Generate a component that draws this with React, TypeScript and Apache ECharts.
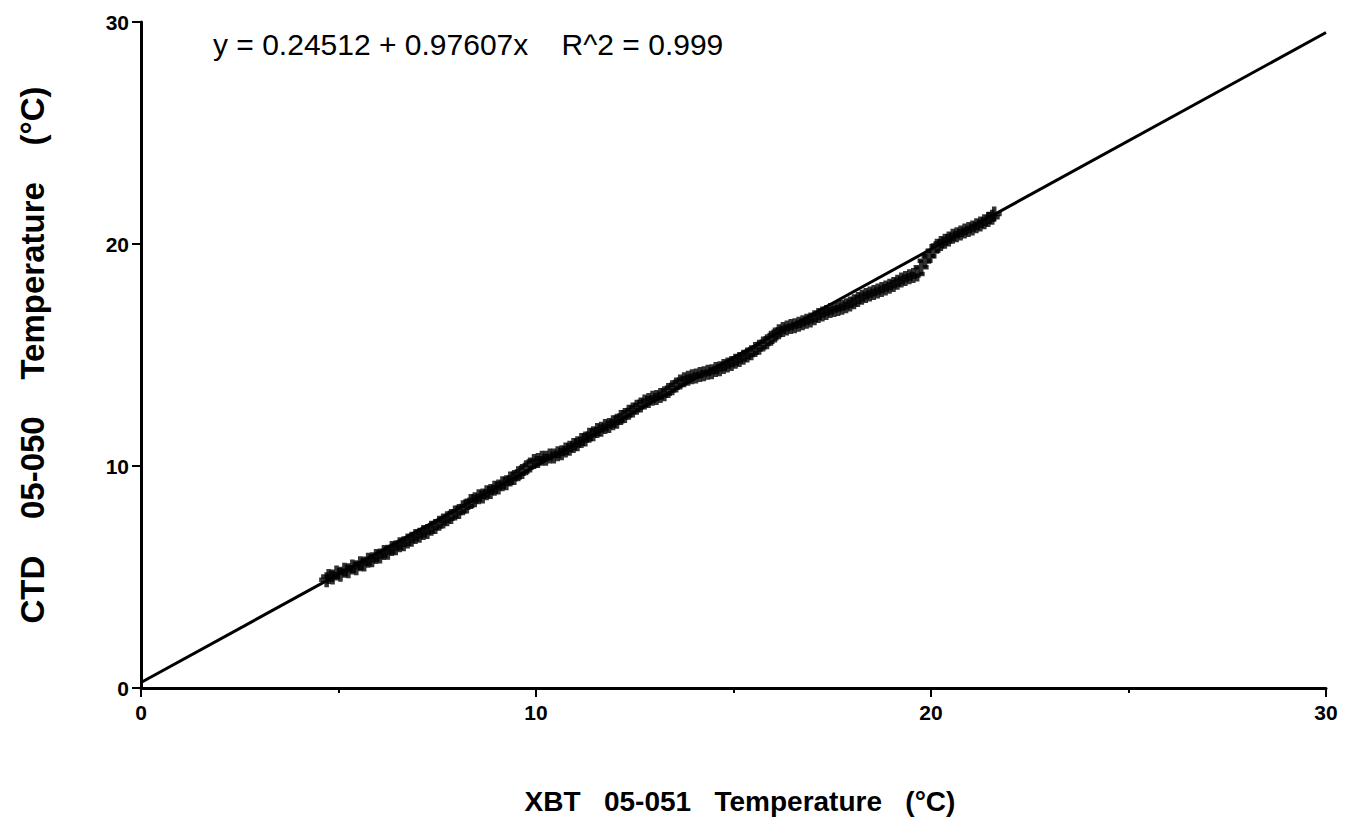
import React, { useEffect, useRef } from "react";
import * as echarts from "echarts";

const xTicks = [0, 10, 20, 30];
const yTicks = [0, 10, 20, 30];
const FIT_INTERCEPT = 0.24512;
const FIT_SLOPE = 0.97607;
const fitRange = [0, 30];
const equationText = "y = 0.24512 + 0.97607x    R^2 = 0.999";
const xTitle = "XBT   05-051   Temperature   (°C)";
const yTitle = "CTD    05-050    Temperature    (°C)";

const xbt = [
  4.7, 4.75, 4.85, 4.95, 5.05, 5.15, 5.25, 5.35, 5.45, 5.55, 5.65, 5.75, 5.85, 5.95, 6.05, 6.15, 6.25, 6.35, 6.45, 6.55,
  6.65, 6.75, 6.85, 6.95, 7.05, 7.15, 7.25, 7.35, 7.45, 7.55, 7.65, 7.75, 7.85, 7.95, 8.05, 8.15, 8.25, 8.35, 8.45, 8.55,
  8.65, 8.75, 8.85, 8.95, 9.05, 9.15, 9.25, 9.35, 9.45, 9.55, 9.65, 9.75, 9.85, 9.95, 10.05, 10.15, 10.25, 10.35, 10.45, 10.55,
  10.65, 10.75, 10.85, 10.95, 11.05, 11.15, 11.25, 11.35, 11.45, 11.55, 11.65, 11.75, 11.85, 11.95, 12.05, 12.15, 12.25, 12.35, 12.45, 12.55,
  12.65, 12.75, 12.85, 12.95, 13.05, 13.15, 13.25, 13.35, 13.45, 13.55, 13.65, 13.75, 13.85, 13.95, 14.05, 14.15, 14.25, 14.35, 14.45, 14.55,
  14.65, 14.75, 14.85, 14.95, 15.05, 15.15, 15.25, 15.35, 15.45, 15.55, 15.65, 15.75, 15.85, 15.95, 16.05, 16.15, 16.25, 16.35, 16.45, 16.55,
  16.65, 16.75, 16.85, 16.95, 17.05, 17.15, 17.25, 17.35, 17.45, 17.55, 17.65, 17.75, 17.85, 17.95, 18.05, 18.15, 18.25, 18.35, 18.45, 18.55,
  18.65, 18.75, 18.85, 18.95, 19.05, 19.15, 19.25, 19.35, 19.45, 19.55, 19.65, 19.75, 19.85, 19.95, 20.05, 20.15, 20.25, 20.35, 20.45, 20.55,
  20.65, 20.75, 20.85, 20.95, 21.05, 21.15, 21.25, 21.35, 21.45, 21.55, 21.6
];
const ctd = [
  4.88, 5.02, 5.0, 5.18, 5.12, 5.3, 5.28, 5.45, 5.42, 5.6, 5.58, 5.75, 5.78, 5.92, 5.95, 6.1, 6.12, 6.28, 6.32, 6.45,
  6.5, 6.62, 6.7, 6.82, 6.88, 7.0, 7.05, 7.2, 7.28, 7.42, 7.52, 7.62, 7.72, 7.88, 7.95, 8.12, 8.2, 8.4, 8.48, 8.62,
  8.65, 8.8, 8.85, 9.0, 9.05, 9.2, 9.25, 9.42, 9.48, 9.65, 9.75, 9.92, 10.05, 10.2, 10.25, 10.35, 10.35, 10.45, 10.45, 10.55,
  10.6, 10.72, 10.8, 10.92, 11.0, 11.15, 11.22, 11.38, 11.45, 11.6, 11.65, 11.78, 11.82, 11.95, 12.02, 12.18, 12.28, 12.42, 12.52, 12.65,
  12.75, 12.88, 12.95, 13.05, 13.08, 13.18, 13.25, 13.4, 13.52, 13.65, 13.78, 13.88, 13.95, 14.02, 14.05, 14.12, 14.15, 14.22, 14.25, 14.35,
  14.38, 14.48, 14.55, 14.62, 14.72, 14.8, 14.9, 15.0, 15.1, 15.25, 15.35, 15.5, 15.6, 15.75, 15.9, 16.05, 16.15, 16.22, 16.28, 16.32,
  16.38, 16.45, 16.52, 16.58, 16.68, 16.78, 16.85, 16.92, 17.0, 17.05, 17.1, 17.15, 17.22, 17.3, 17.4, 17.5, 17.6, 17.68, 17.75, 17.82,
  17.88, 17.95, 18.02, 18.1, 18.18, 18.28, 18.38, 18.45, 18.52, 18.58, 18.65, 18.95, 19.25, 19.45, 19.7, 19.9, 20.02, 20.12, 20.22, 20.35,
  20.42, 20.5, 20.58, 20.65, 20.72, 20.82, 20.9, 21.0, 21.1, 21.2, 21.35
];

const PLUS = "path://M3.5,0H6.5V3.5H10V6.5H6.5V10H3.5V6.5H0V3.5H3.5Z";
const FONT = "Arial";

export default function App() {
  const ref = useRef<HTMLDivElement>(null);
  useEffect(() => {
    if (!ref.current) return;
    const chart = echarts.init(ref.current, null, { renderer: "svg" });
    const points = xbt.map((x, i) => [x, ctd[i]]);
    const fit = fitRange.map((x) => [x, FIT_INTERCEPT + FIT_SLOPE * x]);
    chart.setOption({
      animation: false,
      backgroundColor: "#ffffff",
      grid: { left: 141, right: 21, top: 22, bottom: 141 },
      xAxis: {
        type: "value",
        min: xTicks[0],
        max: xTicks[xTicks.length - 1],
        interval: 10,
        splitLine: { show: false },
        axisLine: { lineStyle: { color: "#000", width: 3 } },
        axisTick: { show: true, length: 9, lineStyle: { color: "#000", width: 2 } },
        minorTick: { show: true, splitNumber: 2, length: 5, lineStyle: { color: "#000", width: 2 } },
        axisLabel: { color: "#000", fontFamily: FONT, fontWeight: "bold", fontSize: 21, margin: 14 },
      },
      yAxis: {
        type: "value",
        min: yTicks[0],
        max: yTicks[yTicks.length - 1],
        interval: 10,
        splitLine: { show: false },
        axisLine: { lineStyle: { color: "#000", width: 3 } },
        axisTick: { show: true, length: 9, lineStyle: { color: "#000", width: 2 } },
        axisLabel: { color: "#000", fontFamily: FONT, fontWeight: "bold", fontSize: 21, margin: 12 },
      },
      series: [
        {
          type: "line",
          data: fit,
          symbol: "none",
          lineStyle: { color: "#000", width: 3 },
          z: 2,
        },
        {
          type: "scatter",
          data: points,
          symbol: PLUS,
          symbolSize: 15,
          itemStyle: { color: "#000" },
          z: 3,
        },
      ],
      graphic: [
        {
          type: "text",
          x: 213,
          y: 44,
          style: { text: equationText, fill: "#000", fontFamily: FONT, fontSize: 30, verticalAlign: "middle" },
        },
        {
          type: "text",
          x: 740,
          y: 801,
          style: { text: xTitle, fill: "#000", fontFamily: FONT, fontWeight: "bold", fontSize: 28, align: "center", verticalAlign: "middle" },
        },
        {
          type: "text",
          x: 32,
          y: 355,
          rotation: Math.PI / 2,
          style: { text: yTitle, fill: "#000", fontFamily: FONT, fontWeight: "bold", fontSize: 33, align: "center", verticalAlign: "middle" },
        },
      ],
    });
    return () => chart.dispose();
  }, []);
  return <div ref={ref} style={{ position: "fixed", left: 0, top: 0, width: 1347, height: 829, background: "#fff" }} />;
}
